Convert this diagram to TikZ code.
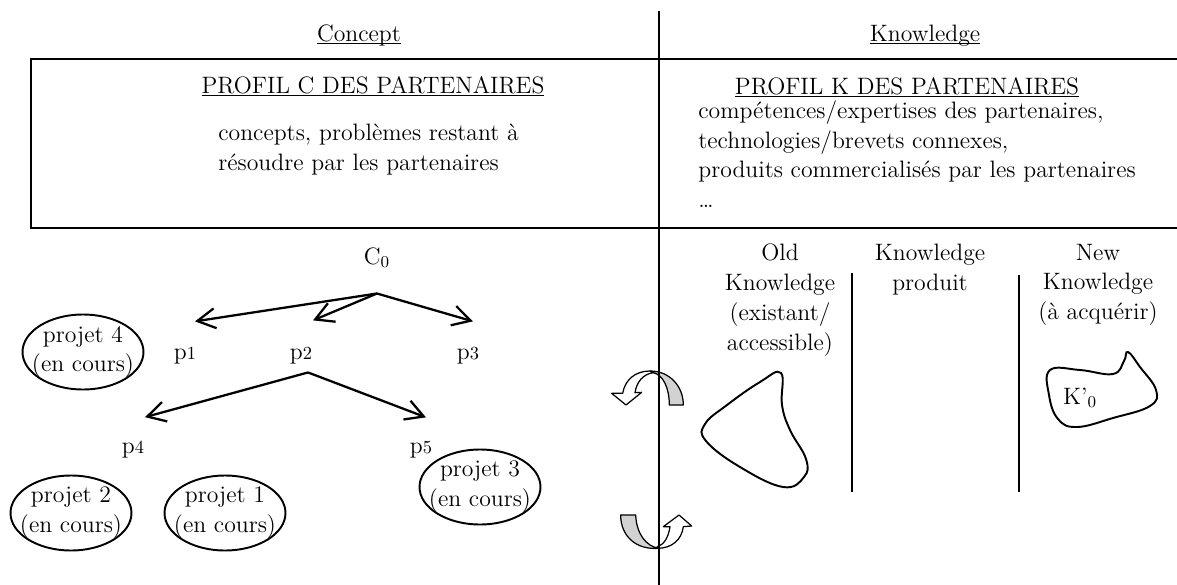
\documentclass[tikz,border=0pt]{standalone}
\usepackage{tikz}
\usetikzlibrary{arrows.meta, shapes.geometric, positioning}
\newcommand{\bodysize}{\fontsize{13.5}{17}\selectfont}
\newcommand{\hdrline}[1]{\underline{\smash{#1}}}
\newcommand{\pidx}[1]{p{\fontsize{10.5}{12}\selectfont #1}}
\tikzset{
    lbl/.style={font=\bodysize, inner sep=0pt},
    projet/.style={
        ellipse,
        draw,
        line width=1.1pt,
        font=\bodysize,
        align=center,
        inner xsep=-0.3cm,
        inner ysep=-0.1cm,
        minimum width=2.42cm,
        minimum height=1.5cm
    },
    treearrow/.style={line width=1.3pt, -{Straight Barb[length=3.6mm,width=4mm]}},
    divider/.style={line width=1.1pt},
    blob/.style={line width=1.1pt},
    turn/.style={line width=0.7pt, line join=round}
}

\begin{document}
\begin{tikzpicture}[x=0.02cm, y=-0.02cm]
    \useasboundingbox (0,0) rectangle (1177,585);

    % column headers
    \node[lbl, anchor=base] (concepthdr) at (359,41) {\hdrline{Concept}};
    \node[lbl, anchor=base] (knowhdr) at (925,41) {\hdrline{Knowledge}};

    % partner profiles box
    \draw[line width=1.3pt] (1177,59) -- (31,59) -- (31,228) -- (1177,228);
    \node[lbl, anchor=base] (profc) at (373,93) {\hdrline{PROFIL C DES PARTENAIRES}};
    \node[lbl, anchor=north west, align=left] (cbody) at (218,123.5)
        {concepts, problèmes restant à\\résoudre par les partenaires};
    \node[lbl, anchor=base] (profk) at (907,94) {\hdrline{PROFIL K DES PARTENAIRES}};
    \node[lbl, anchor=north west, align=left] (kbody) at (698,100)
        {compétences/expertises des partenaires,\\technologies/brevets connexes,\\produits commercialisés par les partenaires\\\dots};

    % C tree
    \node[lbl, anchor=base] (c0) at (377,264) {C\textsubscript{0}};
    \node[lbl, anchor=base] (p1) at (185,359) {\pidx{1}};
    \node[lbl, anchor=base] (p2) at (301,359) {\pidx{2}};
    \node[lbl, anchor=base] (p3) at (468,359) {\pidx{3}};
    \node[lbl, anchor=base] (p4) at (133,453) {\pidx{4}};
    \node[lbl, anchor=base] (p5) at (421,453) {\pidx{5}};
    \coordinate (c0root) at ([yshift=-0.5cm]c0.south);
    \coordinate (p2root) at ([xshift=0.14cm, yshift=-0.17cm]p2.south);
    \draw[treearrow] (c0root) -- ([xshift=0.2cm, yshift=0.5cm]p1.north);
    \draw[treearrow] (c0root) -- ([xshift=0.24cm, yshift=0.52cm]p2.north);
    \draw[treearrow] (c0root) -- ([xshift=0.1cm, yshift=0.5cm]p3.north);
    \draw[treearrow] (p2root) -- ([xshift=0.24cm, yshift=0.46cm]p4.north);
    \draw[treearrow] (p2root) -- ([xshift=0.1cm, yshift=0.46cm]p5.north);

    % running projects
    \node[projet] (pj4) at (83,352) {projet 4\\(en cours)};
    \node[projet] (pj2) at (71,513) {projet 2\\(en cours)};
    \node[projet] (pj1) at (225,513) {projet 1\\(en cours)};
    \node[projet] (pj3) at (480,487) {projet 3\\(en cours)};

    % K columns
    \node[lbl, anchor=north, align=center] (oldk) at (780,243.5) {Old\\Knowledge\\(existant/\\accessible)};
    \node[lbl, anchor=north, align=center] (prodk) at (930,243.5) {Knowledge\\produit};
    \node[lbl, anchor=north, align=center] (newk) at (1098,243.5) {New\\Knowledge\\(à acquérir)};
    \draw[divider] (852,273) -- (852,492);
    \draw[divider] (1019,275) -- (1019,492);

    % knowledge blobs
    \draw[blob] plot[smooth cycle, tension=0.7] coordinates {(781,373) (760,382) (727,405) (705,424) (706,441) (740,467) (783,487) (804,477) (806,459) (790,430) (782,405)};
    \draw[blob] plot[smooth cycle, tension=0.7] coordinates {(1050,370) (1080,370) (1113,374) (1124,361) (1128,352) (1140,367) (1156,390) (1150,406) (1113,418) (1077,427) (1058,419) (1049,395)};
    \node[lbl, anchor=base] (kzero) at (1080,404) {K'\textsubscript{0}};

    % turning arrows on the C-K border
    \begin{scope}[shift={(600,240)}, scale=1/3]
        \filldraw[turn, fill=white] (150,393) .. controls (105,393) and (75,420) .. (68,460) -- (35,460) -- (78,495) -- (125,457) -- (105,458) .. controls (110,425) and (130,402) .. (160,398) -- cycle;
        \filldraw[turn, fill=gray!35] (150,393) .. controls (210,393) and (250,440) .. (250,495) -- (208,495) .. controls (208,445) and (190,405) .. (160,398) -- cycle;
        \filldraw[turn, fill=gray!35] (62,825) -- (107,825) .. controls (110,885) and (140,918) .. (175,925) .. controls (110,930) and (62,890) .. (62,825) -- cycle;
        \filldraw[turn, fill=white] (172,925) .. controls (215,925) and (245,900) .. (250,860) -- (275,858) -- (237,825) -- (190,860) -- (210,860) .. controls (205,895) and (190,915) .. (172,920) -- cycle;
    \end{scope}

    % C / K border
    \draw[line width=0.8pt] (659,11) -- (659,585);
\end{tikzpicture}
\end{document}
